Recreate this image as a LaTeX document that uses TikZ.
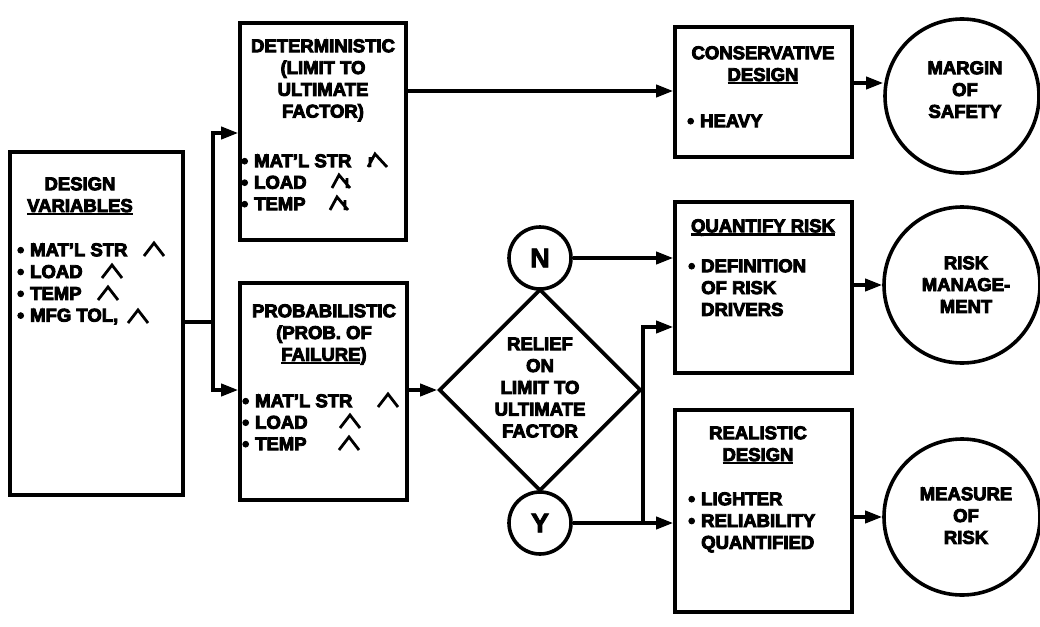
\documentclass[tikz,border=0pt]{standalone}
\usepackage{fontspec}
\setmainfont{Liberation Sans}
\newfontfamily\hvy{Liberation Sans}[UprightFont={* Bold}, Ligatures=TeX]
\newcommand\heavytext{\special{pdf:literal direct 2 Tr 0.9 w}}
\usetikzlibrary{arrows.meta,shapes.geometric}
\newcommand\bu{\raisebox{-0.6pt}{\fontsize{20}{20}\selectfont\textbullet}\hspace{6pt}}
\newcommand\undl[1]{\setbox0\hbox{#1}\rlap{\rule[-3.4pt]{\wd0}{2.2pt}}\box0}
\newcommand\fs{\rule{0pt}{14pt}}
\begin{document}
\begin{tikzpicture}[x=1pt,y=-1pt,
  every node/.style={font=\hvy\fontsize{18.5}{21.8}\selectfont\heavytext, inner sep=0pt},
  box/.style={draw, line width=3.6pt, rectangle},
  circ/.style={draw, line width=3.6pt, circle},
  txt/.style={anchor=north, align=center},
  lst/.style={anchor=north west, align=left},
  conn/.style={line width=3.6pt},
  arr/.style={conn, -{Triangle[length=17pt,width=12pt]}},
  crt/.style={line width=2.8pt, line join=miter}]
\useasboundingbox (0,0) rectangle (1040,626);

% boxes
\node[box, minimum width=173pt, minimum height=343pt] (dv) at (96.5,323.5) {};
\node[box, minimum width=166pt, minimum height=217pt] (det) at (323,131.5) {};
\node[box, minimum width=167pt, minimum height=217pt] (prob) at (323.5,391.5) {};
\node[box, minimum width=177pt, minimum height=130pt] (cons) at (763.5,92) {};
\node[box, minimum width=177pt, minimum height=171pt] (quant) at (763.5,287.5) {};
\node[box, minimum width=177pt, minimum height=202pt] (real) at (763.5,511) {};

% circles and decision
\node[circ, minimum size=154pt] (margin) at (962,96) {};
\node[circ, minimum size=156pt] (risk) at (962,285) {};
\node[circ, minimum size=156pt] (measure) at (962,517) {};
\node[circ, minimum size=62pt, font=\hvy\fontsize{27}{27}\selectfont\heavytext] (N) at (540,258) {N};
\node[circ, minimum size=62pt, font=\hvy\fontsize{27}{27}\selectfont\heavytext] (Y) at (540,523) {Y};
\node[draw, line width=3.6pt, diamond, minimum width=202pt, minimum height=202pt] (dia) at (540,390) {};

% texts
\node[txt] (dvt) at (80,176) {\fs DESIGN\\\undl{VARIABLES}};
\node[lst] (dvl) at (17,242) {\fs\bu MAT'L STR\\\bu LOAD\\\bu TEMP\\\bu MFG TOL,};
\node[txt] (dett) at (323,38) {\fs DETERMINISTIC\\(LIMIT TO\\ULTIMATE\\FACTOR)};
\node[lst, font=\hvy\fontsize{18.5}{21.5}\selectfont\heavytext] (detl) at (241,153) {\fs\bu MAT'L STR\\\bu LOAD\\\bu TEMP};
\node[txt] (probt) at (324,303) {\fs PROBABILISTIC\\(PROB. OF\\\undl{FAILURE})};
\node[lst, font=\hvy\fontsize{18.5}{21.5}\selectfont\heavytext] (probl) at (242,393) {\fs\bu MAT'L STR\\\bu LOAD\\\bu TEMP};
\node[txt] (diat) at (540,336) {\fs RELIEF\\ON\\LIMIT TO\\ULTIMATE\\FACTOR};
\node[txt] (const) at (763,45) {\fs CONSERVATIVE\\\undl{DESIGN}};
\node[lst] (consl) at (687,113) {\fs\bu HEAVY};
\node[txt] (quantt) at (763,218) {\fs\undl{QUANTIFY RISK}};
\node[lst] (quantl) at (688,258) {\fs\bu DEFINITION\\\hphantom{\bu}OF RISK\\\hphantom{\bu}DRIVERS};
\node[txt] (realt) at (758,425) {\fs REALISTIC\\\undl{DESIGN}};
\node[lst] (reall) at (688,491) {\fs\bu LIGHTER\\\bu RELIABILITY\\\hphantom{\bu}QUANTIFIED};
\node[txt] (margint) at (965,60) {\fs MARGIN\\OF\\SAFETY};
\node[txt] (riskt) at (966,255) {\fs RISK\\MANAGE-\\MENT};
\node[txt] (measuret) at (966,486) {\fs MEASURE\\OF\\RISK};

% distribution marks
\foreach \cx/\cy in {154/249, 112/271, 108/293, 138/316, 388/400, 350/421, 349/443}
  \draw[crt] (\cx-10,\cy+7) -- (\cx,\cy-6) -- (\cx+10,\cy+7);
\draw[crt] (368,167) -- (375,154) -- (387,167) (370,157) -- (370,167);
\draw[crt] (332,188) -- (339,175) -- (350,188) (347,178) -- (347,188);
\draw[crt] (330,210) -- (337,197) -- (348,210) (345,200) -- (345,210);

% connectors
\coordinate (j1) at (213,322);
\draw[conn] (dv.east |- j1) -- (j1);
\draw[arr] (j1) |- (det.west |- 0,133);
\draw[arr] (j1) |- (prob.west |- 0,390);
\draw[arr] (det.east |- 0,91) -- (cons.west |- 0,91);
\draw[arr] (prob.east |- dia.west) -- (dia.west);
\draw[arr] (N.east) -- (quant.west |- N.east);
\draw[arr] (Y.east) -- (real.west |- Y.east);
\coordinate (j2) at (dia.east |- Y.east);
\draw[arr] (j2) |- (quant.west |- 0,327);
\draw[arr] (cons.east |- 0,83) -- (margin.west |- 0,83);
\draw[arr] (quant.east |- risk.west) -- (risk.west);
\draw[arr] (real.east |- measure.west) -- (measure.west);
\end{tikzpicture}
\end{document}
